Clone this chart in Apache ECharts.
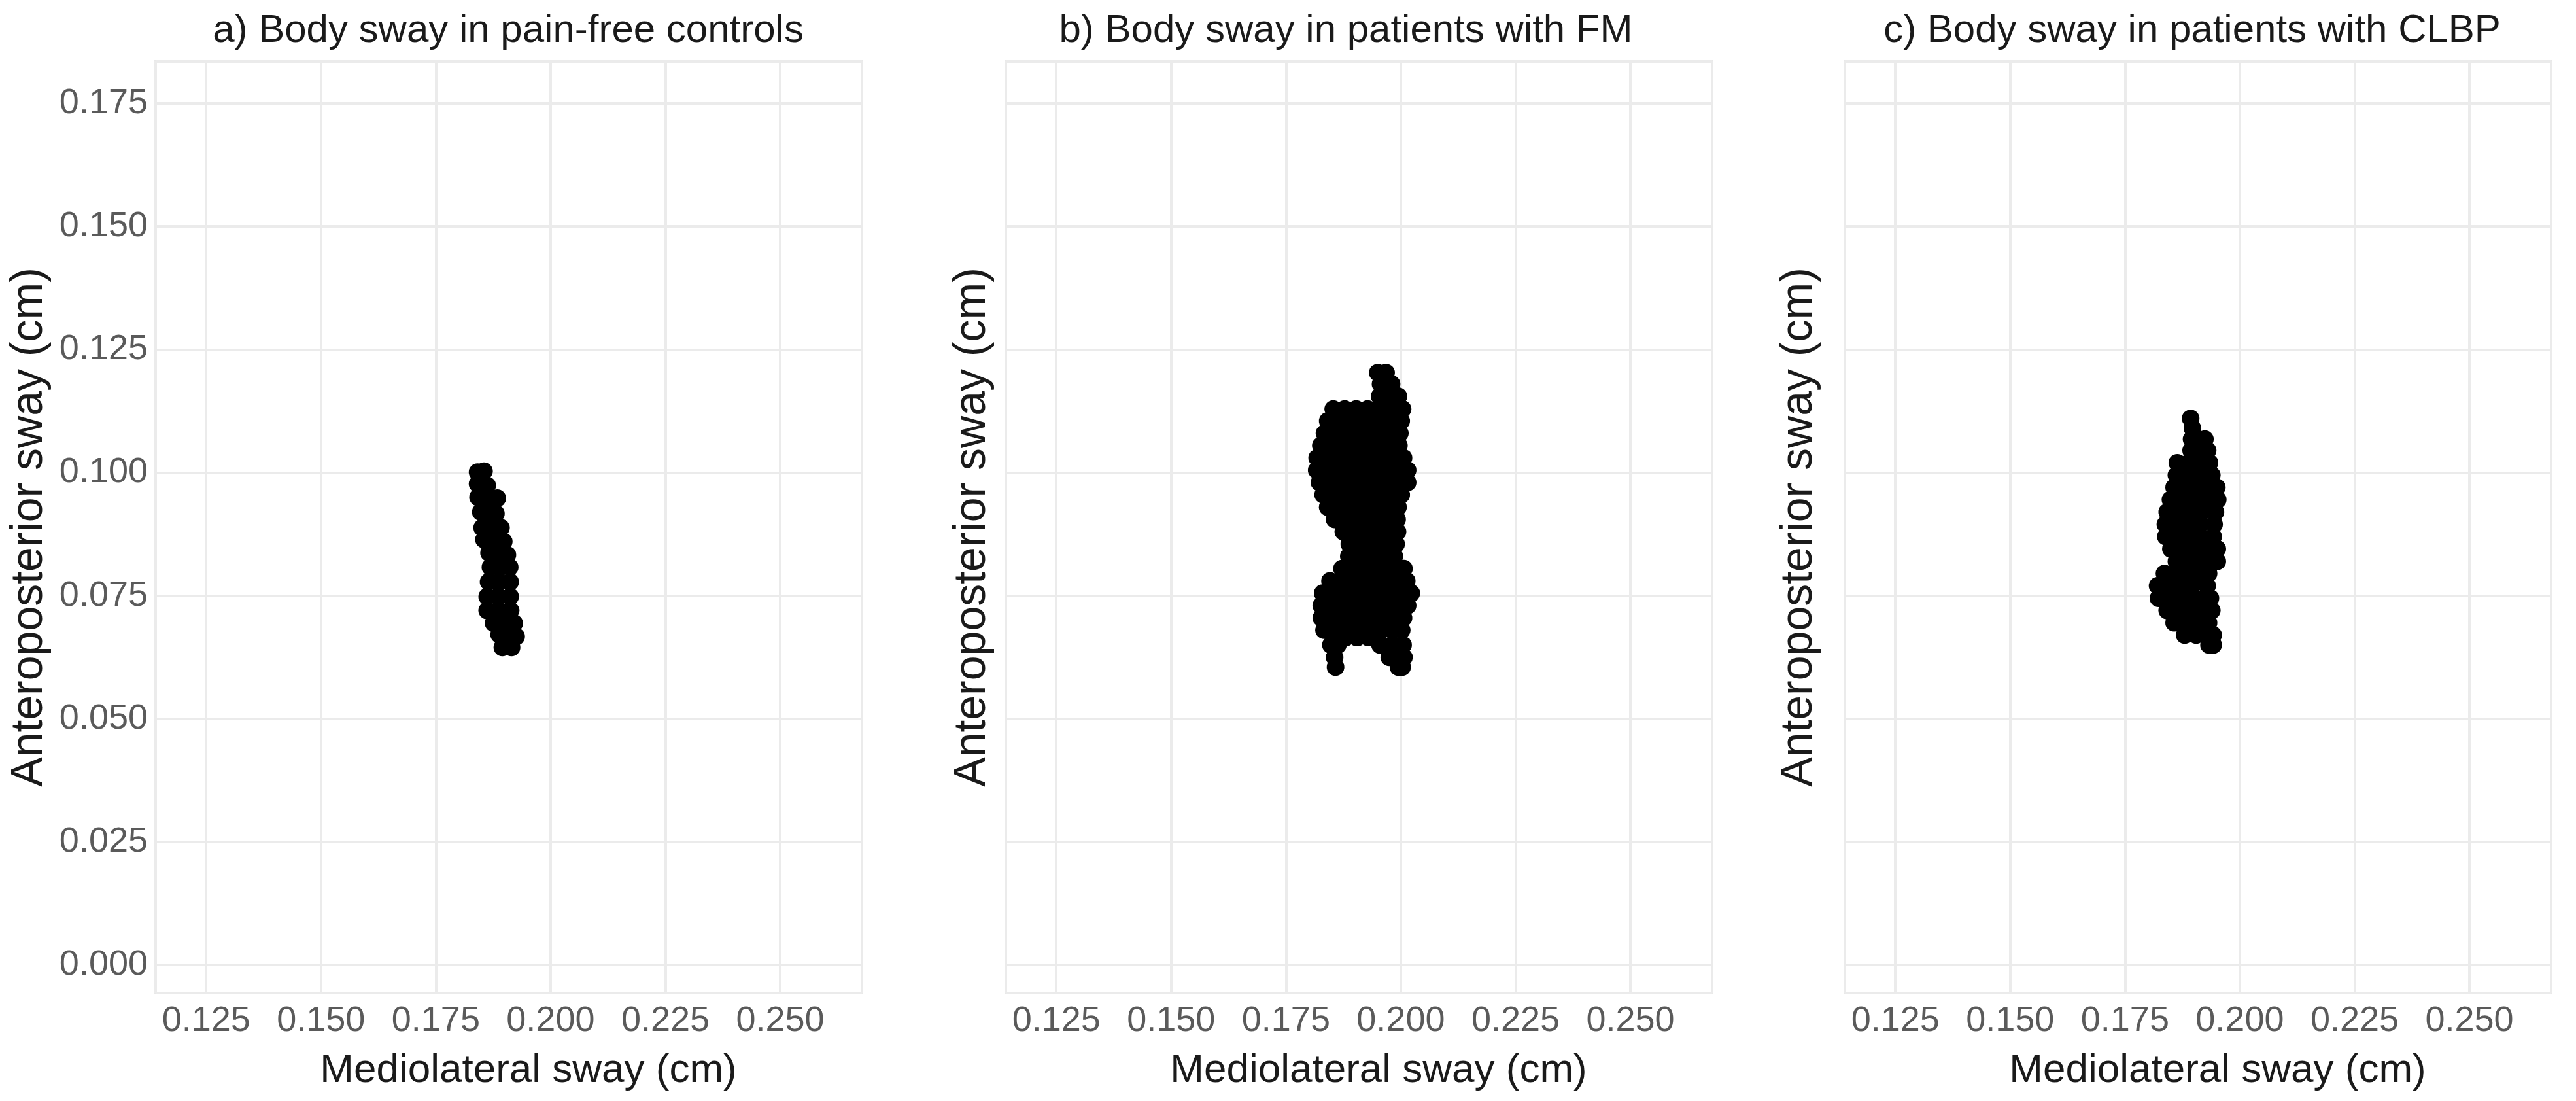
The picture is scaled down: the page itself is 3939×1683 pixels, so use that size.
<!DOCTYPE html>
<html><head><meta charset="utf-8">
<script src="https://cdn.jsdelivr.net/npm/echarts@6/dist/echarts.min.js"></script>
<style>html,body{margin:0;padding:0;background:#fff}#chart{width:3939px;height:1683px}</style>
</head><body><div id="chart"></div>
<script>
// ---- text ----
const panelTitles = [
  'a) Body sway in pain-free controls',
  'b) Body sway in patients with FM',
  'c) Body sway in patients with CLBP'
];
const xAxisName = 'Mediolateral sway (cm)';
const yAxisName = 'Anteroposterior sway (cm)';

// ---- tick labels / axis limits ----
const xTicks = [0.125, 0.150, 0.175, 0.200, 0.225, 0.250];
const yTicks = [0.000, 0.025, 0.050, 0.075, 0.100, 0.125, 0.150, 0.175];
const tickStep = 0.025;
const xLimits = [0.114, 0.2678];
const yLimits = [-0.0057, 0.1835];

// ---- a) pain-free controls ----
const controlsX = [
  0.1841, 0.1855,
  0.1841, 0.1862,
  0.1842, 0.1864, 0.1884,
  0.1848, 0.1866, 0.1881,
  0.1851, 0.1872, 0.1892,
  0.1855, 0.1876, 0.1898,
  0.1866, 0.1886, 0.1906,
  0.1869, 0.1891, 0.1911,
  0.1865, 0.1888, 0.1912,
  0.1862, 0.1886, 0.1912,
  0.1862, 0.1888, 0.1913,
  0.1876, 0.1898, 0.1921,
  0.1888, 0.1906, 0.1925,
  0.1895, 0.1915
];
const controlsY = [
  0.1001, 0.1003,
  0.0977, 0.0974,
  0.0950, 0.0950, 0.0948,
  0.0920, 0.0920, 0.0917,
  0.0888, 0.0888, 0.0888,
  0.0864, 0.0864, 0.0860,
  0.0837, 0.0837, 0.0833,
  0.0808, 0.0808, 0.0808,
  0.0778, 0.0778, 0.0778,
  0.0748, 0.0748, 0.0748,
  0.0720, 0.0720, 0.0720,
  0.0694, 0.0694, 0.0694,
  0.0671, 0.0671, 0.0667,
  0.0645, 0.0645
];

// ---- b) patients with FM ----
const fmX = [
  0.1950, 0.1968,
  0.1956, 0.1980,
  0.1954, 0.1975, 0.1995,
  0.1853, 0.1878, 0.1903, 0.1928, 0.1953, 0.1978, 0.2004,
  0.1841, 0.1866, 0.1891, 0.1916, 0.1941, 0.1966, 0.1991, 0.2001,
  0.1834, 0.1859, 0.1884, 0.1909, 0.1934, 0.1959, 0.1984, 0.1998,
  0.1826, 0.1851, 0.1876, 0.1901, 0.1926, 0.1951, 0.1976, 0.1996,
  0.1818, 0.1843, 0.1868, 0.1893, 0.1918, 0.1943, 0.1968, 0.1993, 0.2006,
  0.1817, 0.1842, 0.1867, 0.1892, 0.1917, 0.1942, 0.1967, 0.1992, 0.2015,
  0.1823, 0.1848, 0.1873, 0.1898, 0.1923, 0.1948, 0.1973, 0.1998, 0.2015,
  0.1831, 0.1856, 0.1881, 0.1906, 0.1931, 0.1956, 0.1981, 0.2001,
  0.1841, 0.1866, 0.1891, 0.1916, 0.1941, 0.1966, 0.1994,
  0.1856, 0.1881, 0.1906, 0.1931, 0.1956, 0.1981, 0.1992,
  0.1875, 0.1900, 0.1925, 0.1950, 0.1975, 0.1993,
  0.1888, 0.1913, 0.1938, 0.1963, 0.1990,
  0.1887, 0.1912, 0.1937, 0.1962, 0.1986,
  0.1872, 0.1897, 0.1922, 0.1947, 0.1972, 0.1990, 0.2007,
  0.1846, 0.1871, 0.1896, 0.1921, 0.1946, 0.1971, 0.1996, 0.2013,
  0.1830, 0.1855, 0.1880, 0.1905, 0.1930, 0.1955, 0.1980, 0.2005, 0.2023,
  0.1827, 0.1852, 0.1877, 0.1902, 0.1927, 0.1952, 0.1977, 0.2002, 0.2015,
  0.1827, 0.1852, 0.1877, 0.1902, 0.1927, 0.1952, 0.1977, 0.2006,
  0.1833, 0.1858, 0.1883, 0.1908, 0.1933, 0.1958, 0.1983, 0.2002,
  0.1880, 0.1905, 0.1930,
  0.1848, 0.1863, 0.1955, 0.1980, 0.2005,
  0.1856, 0.1975, 0.1995, 0.2007,
  0.1858, 0.1995, 0.2003
];
const fmY = [
  0.1203, 0.1203,
  0.1180, 0.1180,
  0.1155, 0.1155, 0.1155,
  0.1129, 0.1129, 0.1129, 0.1129, 0.1129, 0.1129, 0.1129,
  0.1105, 0.1105, 0.1105, 0.1105, 0.1105, 0.1105, 0.1105, 0.1105,
  0.1080, 0.1080, 0.1080, 0.1080, 0.1080, 0.1080, 0.1080, 0.1080,
  0.1055, 0.1055, 0.1055, 0.1055, 0.1055, 0.1055, 0.1055, 0.1055,
  0.1030, 0.1030, 0.1030, 0.1030, 0.1030, 0.1030, 0.1030, 0.1030, 0.1030,
  0.1005, 0.1005, 0.1005, 0.1005, 0.1005, 0.1005, 0.1005, 0.1005, 0.1005,
  0.0980, 0.0980, 0.0980, 0.0980, 0.0980, 0.0980, 0.0980, 0.0980, 0.0980,
  0.0955, 0.0955, 0.0955, 0.0955, 0.0955, 0.0955, 0.0955, 0.0955,
  0.0930, 0.0930, 0.0930, 0.0930, 0.0930, 0.0930, 0.0930,
  0.0905, 0.0905, 0.0905, 0.0905, 0.0905, 0.0905, 0.0905,
  0.0880, 0.0880, 0.0880, 0.0880, 0.0880, 0.0880,
  0.0855, 0.0855, 0.0855, 0.0855, 0.0855,
  0.0830, 0.0830, 0.0830, 0.0830, 0.0830,
  0.0805, 0.0805, 0.0805, 0.0805, 0.0805, 0.0805, 0.0805,
  0.0780, 0.0780, 0.0780, 0.0780, 0.0780, 0.0780, 0.0780, 0.0780,
  0.0755, 0.0755, 0.0755, 0.0755, 0.0755, 0.0755, 0.0755, 0.0755, 0.0755,
  0.0730, 0.0730, 0.0730, 0.0730, 0.0730, 0.0730, 0.0730, 0.0730, 0.0730,
  0.0705, 0.0705, 0.0705, 0.0705, 0.0705, 0.0705, 0.0705, 0.0705,
  0.0680, 0.0680, 0.0680, 0.0680, 0.0680, 0.0680, 0.0680, 0.0680,
  0.0665, 0.0665, 0.0665,
  0.0650, 0.0650, 0.0650, 0.0650, 0.0650,
  0.0625, 0.0625, 0.0625, 0.0625,
  0.0605, 0.0605, 0.0605
];

// ---- c) patients with CLBP ----
const clbpX = [
  0.1893,
  0.1897,
  0.1895, 0.1924,
  0.1894, 0.1920, 0.1930,
  0.1864, 0.1889, 0.1914, 0.1934,
  0.1862, 0.1887, 0.1912, 0.1939,
  0.1857, 0.1882, 0.1907, 0.1932, 0.1950,
  0.1849, 0.1874, 0.1899, 0.1924, 0.1952,
  0.1842, 0.1867, 0.1892, 0.1917, 0.1947,
  0.1838, 0.1863, 0.1888, 0.1913, 0.1944,
  0.1839, 0.1864, 0.1889, 0.1914, 0.1942,
  0.1850, 0.1875, 0.1900, 0.1925, 0.1951,
  0.1862, 0.1887, 0.1912, 0.1937, 0.1951,
  0.1836, 0.1861, 0.1886, 0.1911, 0.1932,
  0.1821, 0.1846, 0.1871, 0.1896, 0.1929,
  0.1823, 0.1848, 0.1873, 0.1898, 0.1923, 0.1936,
  0.1842, 0.1867, 0.1892, 0.1917, 0.1939,
  0.1857, 0.1882, 0.1907, 0.1932,
  0.1880, 0.1905, 0.1930, 0.1942,
  0.1933, 0.1942
];
const clbpY = [
  0.1110,
  0.1090,
  0.1068, 0.1068,
  0.1045, 0.1045, 0.1045,
  0.1020, 0.1020, 0.1020, 0.1020,
  0.0995, 0.0995, 0.0995, 0.0995,
  0.0970, 0.0970, 0.0970, 0.0970, 0.0970,
  0.0945, 0.0945, 0.0945, 0.0945, 0.0945,
  0.0920, 0.0920, 0.0920, 0.0920, 0.0920,
  0.0895, 0.0895, 0.0895, 0.0895, 0.0895,
  0.0870, 0.0870, 0.0870, 0.0870, 0.0870,
  0.0845, 0.0845, 0.0845, 0.0845, 0.0845,
  0.0820, 0.0820, 0.0820, 0.0820, 0.0820,
  0.0795, 0.0795, 0.0795, 0.0795, 0.0795,
  0.0770, 0.0770, 0.0770, 0.0770, 0.0770,
  0.0745, 0.0745, 0.0745, 0.0745, 0.0745, 0.0745,
  0.0720, 0.0720, 0.0720, 0.0720, 0.0720,
  0.0695, 0.0695, 0.0695, 0.0695,
  0.0670, 0.0670, 0.0670, 0.0670,
  0.0650, 0.0650
];

// ---- build chart ----
const FONT = '"Liberation Sans", Arial, sans-serif';
const pair = (xs, ys) => xs.map((x, i) => [x, ys[i]]);
const panelData = [pair(controlsX, controlsY), pair(fmX, fmY), pair(clbpX, clbpY)];

const gridLefts = [238, 1538, 2821];
const gridTop = 94, gridW = 1080, gridH = 1424;
const yNameGaps = [159, 17, 36];
const titleShift = [-6, -25, -14];

const gridLine = { show: true, lineStyle: { color: '#ebebeb', width: 4 } };
const fmt = v => v.toFixed(3);

const option = {
  animation: false,
  backgroundColor: '#ffffff',
  title: panelTitles.map((t, i) => ({
    text: t,
    left: gridLefts[i] + gridW / 2 + titleShift[i],
    top: 12,
    textAlign: 'center',
    textStyle: { fontFamily: FONT, fontSize: 60, fontWeight: 'normal', color: '#1a1a1a' }
  })),
  grid: gridLefts.map(l => ({
    left: l, top: gridTop, width: gridW, height: gridH,
    show: true, borderColor: '#e8e8e8', borderWidth: 4, backgroundColor: '#ffffff'
  })),
  xAxis: gridLefts.map((l, i) => ({
    type: 'value', gridIndex: i,
    min: xLimits[0], max: xLimits[1],
    minInterval: tickStep, maxInterval: tickStep,
    name: xAxisName, nameLocation: 'middle', nameGap: 88,
    nameTextStyle: { fontFamily: FONT, fontSize: 62, color: '#1a1a1a', padding: [0, 0, 0, 60] },
    axisLine: { show: false }, axisTick: { show: false },
    axisLabel: { show: true, formatter: fmt, fontFamily: FONT, fontSize: 54, color: '#5a5a5a', margin: 16,
                 showMinLabel: false, showMaxLabel: false },
    splitLine: gridLine
  })),
  yAxis: gridLefts.map((l, i) => ({
    type: 'value', gridIndex: i,
    min: yLimits[0], max: yLimits[1],
    minInterval: tickStep, maxInterval: tickStep,
    name: yAxisName, nameLocation: 'middle', nameGap: yNameGaps[i], nameRotate: 90,
    nameTextStyle: { fontFamily: FONT, fontSize: 68, color: '#1a1a1a' },
    axisLine: { show: false }, axisTick: { show: false },
    axisLabel: { show: i === 0, formatter: fmt, fontFamily: FONT, fontSize: 54, color: '#5a5a5a', margin: 12,
                 showMinLabel: false, showMaxLabel: false },
    splitLine: gridLine
  })),
  series: panelData.map((d, i) => ({
    type: 'scatter', xAxisIndex: i, yAxisIndex: i,
    data: d, symbol: 'circle', symbolSize: 27,
    itemStyle: { color: '#000000', opacity: 1 },
    silent: true
  }))
};

const chart = echarts.init(document.getElementById('chart'), null, { renderer: 'canvas' });
chart.setOption(option);
</script></body></html>
